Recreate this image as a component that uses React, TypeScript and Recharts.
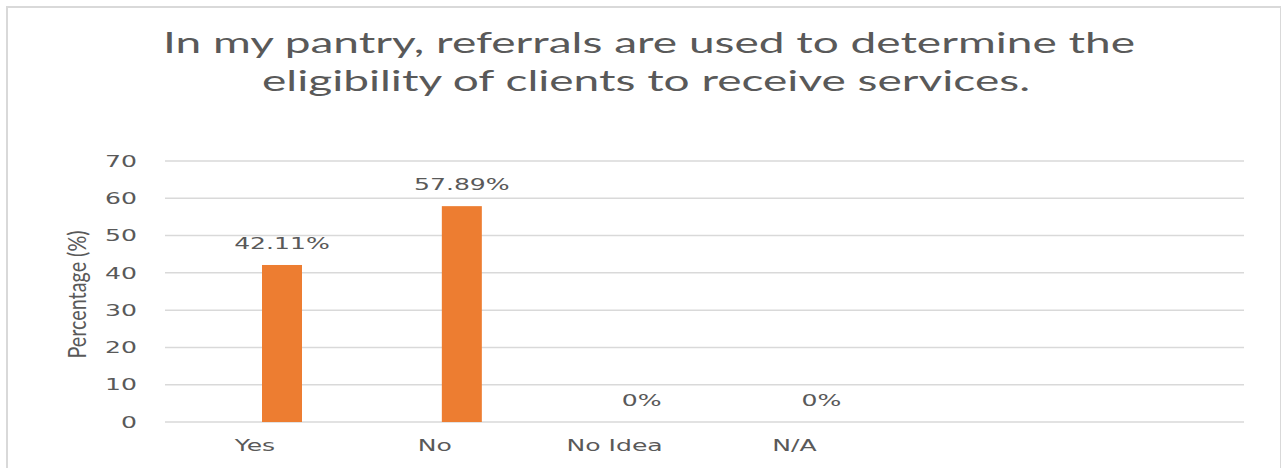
import React from 'react';
import { BarChart, Bar, XAxis, YAxis, CartesianGrid, LabelList } from 'recharts';

// chart values
const categories = ['Yes', 'No', 'No Idea', 'N/A', '', ''];
const percentages: (number | null)[] = [42.11, 57.89, 0, 0, null, null];
const yTicks = [0, 10, 20, 30, 40, 50, 60, 70];
const titleLines = [
  'In my pantry, referrals are used to determine the',
  'eligibility  of clients to  receive services.',
];
const yAxisTitle = 'Percentage (%)';

const data = categories.map((name, i) => ({ name, value: percentages[i] }));

const TEXT = '#595959';
const GRID = '#D9D9D9';
const ORANGE = '#ED7D31';
const FONT = '"DejaVu Sans", Verdana, sans-serif';
const STRETCH = 1.57; // the source picture is stretched sideways
const BAR_SHIFT = 27; // bars sit right of the category label

const YTick = (props: any) => {
  const { x, y, payload } = props;
  return (
    <g transform={`translate(${x - 28},${y}) scale(${STRETCH},1)`}>
      <text x={0} y={0} dy="0.36em" textAnchor="end" fill={TEXT} fontSize={16} fontFamily={FONT}>
        {payload.value}
      </text>
    </g>
  );
};

const XTick = (props: any) => {
  const { x, y, payload } = props;
  if (!payload.value) return null;
  return (
    <g transform={`translate(${x},${y + 29}) scale(${STRETCH},1)`}>
      <text x={0} y={0} textAnchor="middle" fill={TEXT} fontSize={16} fontFamily={FONT}>
        {payload.value}
      </text>
    </g>
  );
};

const ShiftedBar = (props: any) => {
  const { x, y, width, height, fill } = props;
  if (!height) return null;
  return <rect x={x + BAR_SHIFT} y={y} width={width} height={height} fill={fill} />;
};

const ValueLabel = (props: any) => {
  const { x, y, width, value } = props;
  if (value === null || value === undefined) return null;
  const cx = x + width / 2 + BAR_SHIFT;
  return (
    <g transform={`translate(${cx},${y - 16}) scale(${STRETCH},1)`}>
      <text x={0} y={0} textAnchor="middle" fill={TEXT} fontSize={16} fontFamily={FONT}>
        {`${value}%`}
      </text>
    </g>
  );
};

const YLabel = (props: any) => {
  const { viewBox } = props;
  const cx = viewBox.x + 76;
  const cy = viewBox.y + viewBox.height / 2 + 3;
  return (
    <text
      x={cx}
      y={cy}
      transform={`rotate(-90, ${cx}, ${cy})`}
      textAnchor="middle"
      dominantBaseline="central"
      fill={TEXT}
      fontSize={25}
      fontFamily="Lato, sans-serif"
      textLength={128}
      lengthAdjust="spacingAndGlyphs"
    >
      {yAxisTitle}
    </text>
  );
};

export default function App() {
  return (
    <div style={{ position: 'absolute', left: 0, top: 0, width: 1281, height: 468, overflow: 'hidden', background: '#fff' }}>
      <div
        style={{
          position: 'absolute',
          left: 6,
          top: 6,
          width: 1272,
          height: 480,
          border: `2px solid ${GRID}`,
          borderBottom: 'none',
        }}
      />
      <svg width={1281} height={120} style={{ position: 'absolute', left: 0, top: 0, whiteSpace: 'pre' }}>
        <text
          x={649}
          y={53}
          textAnchor="middle"
          fill={TEXT}
          fontSize={28}
          fontFamily="Lato, sans-serif"
          textLength={972}
          lengthAdjust="spacingAndGlyphs"
        >
          {titleLines[0]}
        </text>
        <text
          x={646}
          y={91}
          textAnchor="middle"
          fill={TEXT}
          fontSize={28}
          fontFamily="Lato, sans-serif"
          textLength={768}
          lengthAdjust="spacingAndGlyphs"
        >
          {titleLines[1]}
        </text>
      </svg>
      <div style={{ position: 'absolute', left: 0, top: 0 }}>
        <BarChart width={1281} height={468} data={data} margin={{ top: 161, right: 37, bottom: 16, left: 0 }}>
          <CartesianGrid vertical={false} stroke={GRID} strokeWidth={1.5} />
          <XAxis
            dataKey="name"
            axisLine={false}
            tickLine={false}
            tickSize={0}
            tickMargin={0}
            interval={0}
            height={30}
            tick={<XTick />}
          />
          <YAxis
            domain={[0, 70]}
            ticks={yTicks}
            axisLine={false}
            tickLine={false}
            tickSize={0}
            tickMargin={0}
            width={165}
            tick={<YTick />}
            label={<YLabel />}
          />
          <Bar dataKey="value" fill={ORANGE} barSize={40} shape={<ShiftedBar />} isAnimationActive={false}>
            <LabelList dataKey="value" content={<ValueLabel />} />
          </Bar>
        </BarChart>
      </div>
    </div>
  );
}
